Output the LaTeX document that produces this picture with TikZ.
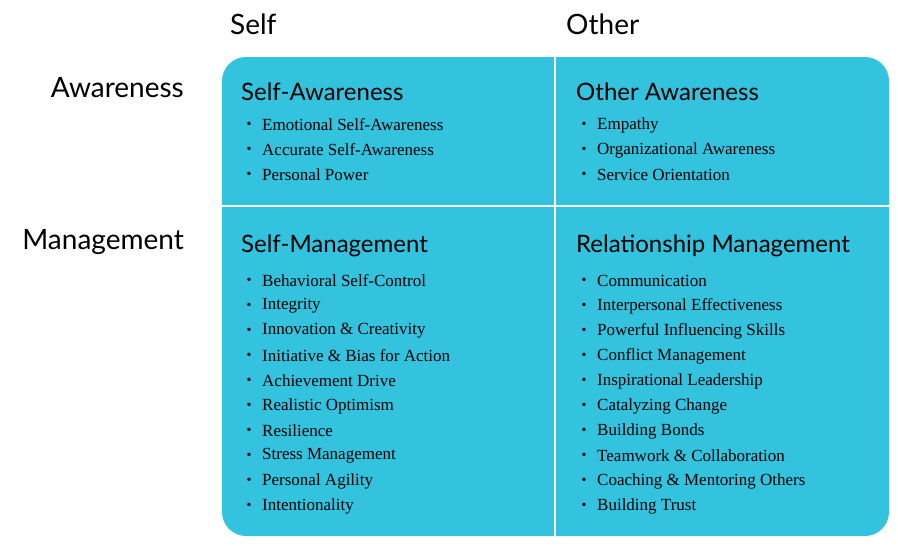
\documentclass[tikz,border=0pt]{standalone}
\usepackage{fontspec}
\setmainfont{Liberation Serif}
\newfontfamily\headfont{Lato}
\definecolor{quadblue}{HTML}{33C3DE}
\tikzset{
	axis label/.style={font=\headfont\fontsize{28}{30}\selectfont, inner sep=0pt},
	quad title/.style={font=\headfont\fontsize{24}{26}\selectfont, anchor=west, inner sep=0pt},
	quad item/.style={font=\fontsize{17}{18}\selectfont, anchor=west, inner sep=0pt},
	quad bullet/.style={font=\fontsize{14}{16}\selectfont, inner sep=0pt}
}
\newcommand{\itemlist}[3]{% x, top y, list
	\foreach \txt [count=\i] in {#3} {
		\node[quad bullet] (b\i) at (#1, #2+25*\i-25) {\textbullet};
		\node[quad item] (t\i) at (#1+13, #2+25*\i-25) {\txt};
	}
}
\begin{document}
\begin{tikzpicture}[x=1pt, y=-1pt]
	\useasboundingbox (0,0) rectangle (898,546);
	% quadrant box
	\fill[quadblue, rounded corners=24pt] (222,57) rectangle (889,536);
	\draw[white, line width=2.5pt] (555,57) -- (555,536);
	\draw[white, line width=2.5pt] (222,206) -- (889,206);
	% axis labels
	\node[axis label, anchor=west] (self) at (230,24) {Self};
	\node[axis label, anchor=west] (other) at (566,24) {Other};
	\node[axis label, anchor=east] (aware) at (184,88) {Awareness};
	\node[axis label, anchor=east] (manage) at (184,242) {Management};
	% quadrant titles
	\node[quad title] (sa) at (241,92) {Self-Awareness};
	\node[quad title] (oa) at (576,92) {Other Awareness};
	\node[quad title] (sm) at (241,246) {Self-Management};
	\node[quad title] (rm) at (576,246) {Relationship Management};
	% lists
	\itemlist{249}{125}{Emotional Self-Awareness, Accurate Self-Awareness, Personal Power}
	\itemlist{584}{125}{Empathy, Organizational Awareness, Service Orientation}
	\itemlist{249}{281}{Behavioral Self-Control, Integrity, Innovation \& Creativity,
		Initiative \& Bias for Action, Achievement Drive, Realistic Optimism, Resilience,
		Stress Management, Personal Agility, Intentionality}
	\itemlist{584}{281}{Communication, Interpersonal Effectiveness, Powerful Influencing Skills,
		Conflict Management, Inspirational Leadership, Catalyzing Change, Building Bonds,
		Teamwork \& Collaboration, Coaching \& Mentoring Others, Building Trust}
\end{tikzpicture}
\end{document}
